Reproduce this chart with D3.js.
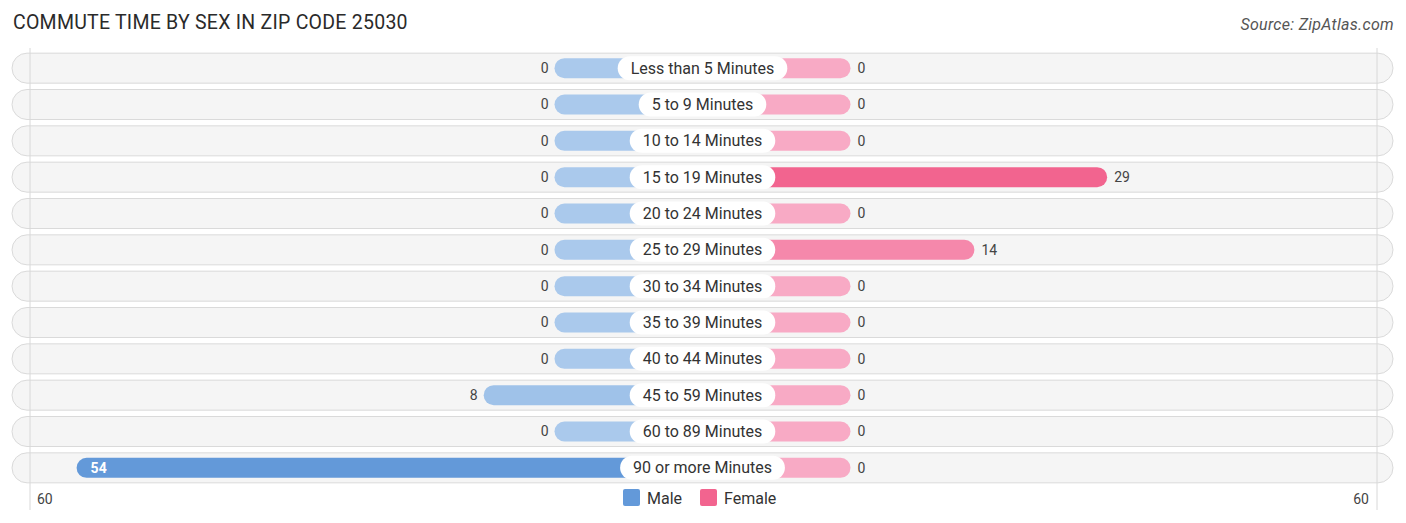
<!DOCTYPE html>
<html>
<head>
<meta charset="utf-8">
<script src="https://cdn.jsdelivr.net/npm/d3@7.9.0/dist/d3.min.js"></script>
<style>
  body { margin: 0; background: #fff; }
  svg { display: block; font-family: Roboto, 'Open Sans', sans-serif; }
</style>
</head>
<body>
<svg id="chart" width="1406" height="523"></svg>
<script>
const categories = [
    'Less than 5 Minutes', '5 to 9 Minutes', '10 to 14 Minutes', '15 to 19 Minutes',
    '20 to 24 Minutes', '25 to 29 Minutes', '30 to 34 Minutes', '35 to 39 Minutes',
    '40 to 44 Minutes', '45 to 59 Minutes', '60 to 89 Minutes', '90 or more Minutes'
];
const male = [0, 0, 0, 0, 0, 0, 0, 0, 0, 8, 0, 54];
const female = [0, 0, 0, 29, 0, 14, 0, 0, 0, 0, 0, 0];
const axisMax = 60;

const center = 702.5;
const stub = 148;   // zero values still get a short bar behind the label

const svg = d3.select('#chart');

// Scales
const xLen = d3.scaleLinear().domain([0, axisMax]).range([stub, stub + 531]);
const y = d3.scaleBand().domain(categories).range([50, 486]);

const maleColor = d3.scaleLinear()
    .domain([0, d3.max(male)])
    .range(['#aac9ec', '#6399d9']);
const femaleColor = d3.scaleLinear()
    .domain([0, d3.max(female)])
    .range(['#f8aac5', '#f2648f']);

// Title
svg.append('text')
    .attr('x', 13)
    .attr('y', 29)
    .attr('font-size', 19.5)
    .attr('letter-spacing', 0.25)
    .attr('fill', '#2a2a2a')
    .text('COMMUTE TIME BY SEX IN ZIP CODE 25030');

svg.append('text')
    .attr('x', 1394)
    .attr('y', 30)
    .attr('text-anchor', 'end')
    .attr('font-size', 16)
    .attr('letter-spacing', 0.3)
    .attr('font-style', 'italic')
    .attr('fill', '#555')
    .text('Source: ZipAtlas.com');

// Row backgrounds
const rows = categories.map((c, i) => ({ cat: c, m: male[i], f: female[i] }));

const bg = svg.append('g').attr('class', 'rows');
bg.selectAll('rect')
    .data(rows)
    .join('rect')
    .attr('x', 12)
    .attr('y', d => y(d.cat) + y.bandwidth() / 2 - 15)
    .attr('width', 1381)
    .attr('height', 30)
    .attr('rx', 15)
    .attr('fill', '#f5f5f5')
    .attr('stroke', '#dadada')
    .attr('stroke-width', 1);

// Gridlines at the axis ends
svg.append('g')
    .selectAll('line')
    .data([30, 1377])
    .join('line')
    .attr('x1', d => d)
    .attr('x2', d => d)
    .attr('y1', 48)
    .attr('y2', 510)
    .attr('stroke', '#d8d8d8')
    .attr('stroke-width', 1);

const barH = 20;

// Male bars
const bars = svg.append('g').attr('class', 'bars');
bars.selectAll('rect.male')
    .data(rows)
    .join('rect')
    .attr('class', 'male')
    .attr('x', d => center - xLen(d.m))
    .attr('y', d => y(d.cat) + y.bandwidth() / 2 - barH / 2)
    .attr('width', d => xLen(d.m))
    .attr('height', barH)
    .attr('rx', barH / 2)
    .attr('fill', d => maleColor(d.m));

// Female bars
bars.selectAll('rect.female')
    .data(rows)
    .join('rect')
    .attr('class', 'female')
    .attr('x', center)
    .attr('y', d => y(d.cat) + y.bandwidth() / 2 - barH / 2)
    .attr('width', d => xLen(d.f))
    .attr('height', barH)
    .attr('rx', barH / 2)
    .attr('fill', d => femaleColor(d.f));

// Category labels in white pills
const labels = svg.append('g').attr('class', 'labels');
labels.selectAll('g')
    .data(rows)
    .join('g')
    .each(function (d) {
        const g = d3.select(this);
        const cy = y(d.cat) + y.bandwidth() / 2;
        const pill = g.append('rect');
        const t = g.append('text')
            .attr('x', center)
            .attr('y', cy)
            .attr('dy', '0.35em')
            .attr('text-anchor', 'middle')
            .attr('font-size', 16)
            .attr('fill', '#333')
            .text(d.cat);
        const w = t.node().getComputedTextLength() + 26;
        pill.attr('x', center - w / 2)
            .attr('y', cy - 12)
            .attr('width', w)
            .attr('height', 24)
            .attr('rx', 12)
            .attr('fill', '#fff');
    });

// Value labels
const vals = svg.append('g').attr('class', 'values').attr('font-size', 14);
vals.selectAll('text.m')
    .data(rows)
    .join('text')
    .attr('class', 'm')
    .attr('y', d => y(d.cat) + y.bandwidth() / 2)
    .attr('dy', '0.35em')
    .attr('x', d => d.m > 40 ? center - xLen(d.m) + 14 : center - xLen(d.m) - 6)
    .attr('text-anchor', d => d.m > 40 ? 'start' : 'end')
    .attr('fill', d => d.m > 40 ? '#fff' : '#444')
    .attr('font-weight', d => d.m > 40 ? 'bold' : null)
    .text(d => d.m);

vals.selectAll('text.f')
    .data(rows)
    .join('text')
    .attr('class', 'f')
    .attr('y', d => y(d.cat) + y.bandwidth() / 2)
    .attr('dy', '0.35em')
    .attr('x', d => center + xLen(d.f) + 7)
    .attr('fill', '#444')
    .text(d => d.f);

// Axis end labels
svg.append('text')
    .attr('x', 37)
    .attr('y', 504)
    .attr('font-size', 14)
    .attr('fill', '#444')
    .text(axisMax);
svg.append('text')
    .attr('x', 1369)
    .attr('y', 504)
    .attr('text-anchor', 'end')
    .attr('font-size', 14)
    .attr('fill', '#444')
    .text(axisMax);

// Legend
const legend = svg.append('g').attr('class', 'legend');
const items = [
    { label: 'Male', color: '#6399d9', x: 623 },
    { label: 'Female', color: '#f2648f', x: 700 }
];
items.forEach(it => {
    legend.append('rect')
        .attr('x', it.x)
        .attr('y', 489)
        .attr('width', 17)
        .attr('height', 17)
        .attr('rx', 2)
        .attr('fill', it.color);
    legend.append('text')
        .attr('x', it.x + 24)
        .attr('y', 498)
        .attr('dy', '0.35em')
        .attr('font-size', 16)
        .attr('fill', '#333')
        .text(it.label);
});
</script>
</body>
</html>
